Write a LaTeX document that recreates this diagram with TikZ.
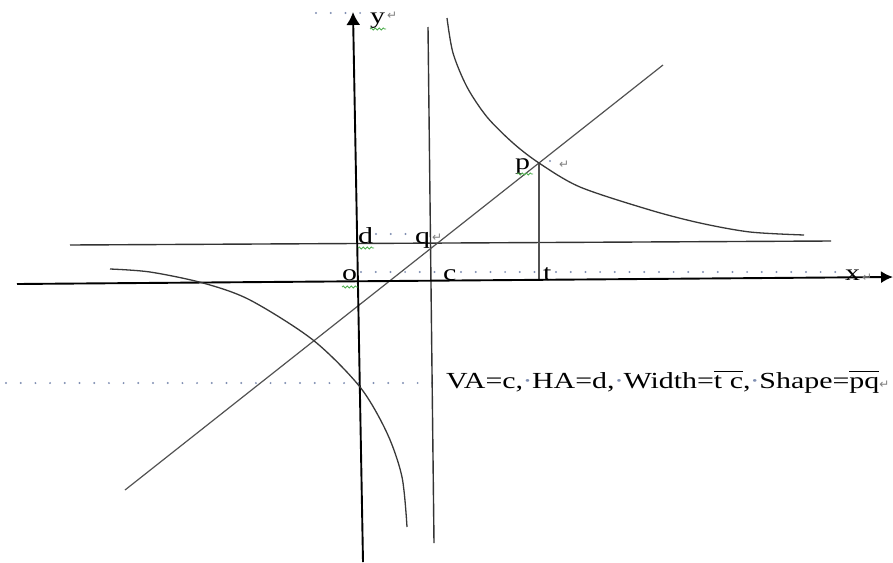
\documentclass[tikz,border=0pt]{standalone}
\usepackage{fontspec}
\setmainfont{Liberation Serif}
\newfontfamily\markfont{DejaVu Sans}
\usepackage{graphicx}
\usetikzlibrary{arrows.meta,decorations.pathmorphing}
\definecolor{dotblue}{rgb}{0.5,0.56,0.7}
\definecolor{wavegreen}{rgb}{0.3,0.68,0.3}
\newcommand{\wide}[1]{\scalebox{1.3}[1]{#1}}
\newcommand{\retmark}{{\markfont\fontsize{12}{12}\selectfont\textcolor{gray}{↵}}}
\newcommand{\spdot}{\makebox[0.3em]{\textcolor{dotblue}{·}}}
\newcommand{\barred}[1]{$\overline{\hbox{\vphantom{T}#1}}$}

\begin{document}
\begin{tikzpicture}[x=1pt,y=-1pt,
    axis/.style={line width=1.9pt,black},
    asym/.style={line width=1.4pt,black!80},
    thinline/.style={line width=1.2pt,black!68},
    curve/.style={line width=1.3pt,black!78},
    spaces/.style={dotblue,line width=2.2pt,line cap=round,dash pattern=on 0pt off 14.7pt},
    wave/.style={wavegreen,line width=0.8pt,decorate,decoration={snake,amplitude=1pt,segment length=4pt}},
    lbl/.style={inner sep=0pt,anchor=base west,font=\fontsize{23}{25}\selectfont},
    ret/.style={inner sep=0pt,anchor=base west}]
  \useasboundingbox (0,0) rectangle (893,562);
  % formatting marks of the spaces
  \draw[spaces] (316,13)--(362,13);
  \draw[spaces] (376,234)--(412,234);
  \draw[spaces] (361,272)--(440,272);
  \draw[spaces] (461,272)--(540,272);
  \draw[spaces] (556,272)--(843,272);
  \draw[spaces] (6,383)--(440,383);
  \draw[spaces] (550,161)--(551,161);
  % points
  \coordinate (P) at (539,163);
  \coordinate (T) at (539,280);
  % asymptotes, diagonal and axes
  \draw[asym] (428,27)--(434,543);
  \draw[asym] (70,245)--(831,241);
  \draw[thinline] (125,490)--(663,65);
  \draw[thinline] (P)--(T);
  \draw[axis,-{Latex[length=12pt,width=12pt]}] (17,284)--(893,277);
  \draw[axis,-{Latex[length=13pt,width=14pt]}] (363,562)--(353,12);
  % the two branches
  \draw[curve] plot[smooth] coordinates {(447,18) (453,53) (467,87) (487,117)
    (513,143) (539,163) (580,187) (650,210) (700,223) (750,232) (804,235)};
  \draw[curve] plot[smooth] coordinates {(110,269) (150,272) (203,283) (250,300)
    (313,340) (360,387) (387,433) (402,477) (407,527)};
  % labels
  \node[lbl](y) at (370,23)  {\wide{y}};
  \node[lbl](d) at (358,243) {\wide{d}};
  \node[lbl](q) at (415,243) {\wide{q}};
  \node[lbl](o) at (342,280) {\wide{o}};
  \node[lbl](c) at (443,280) {\wide{c}};
  \node[lbl](t) at (543,280) {\wide{t}};
  \node[lbl](x) at (845,280) {\wide{x}};
  \node[lbl](p) at (515,169) {\wide{p}};
  \node[lbl](note) at (446,388)
    {\wide{VA=c,\spdot HA=d,\spdot Width=\barred{t c},\spdot Shape=\barred{pq}}\retmark};
  \node[ret] at (387,19)  {\retmark};
  \node[ret] at (432,241) {\retmark};
  \node[ret] at (559,168) {\retmark};
  \node[ret] at (862,281) {\retmark};
  % green wavy marks
  \draw[wave] (370,29)--(386,29);
  \draw[wave] (358,248)--(374,248);
  \draw[wave] (342,287)--(358,287);
  \draw[wave] (517,174)--(533,174);
\end{tikzpicture}
\end{document}
